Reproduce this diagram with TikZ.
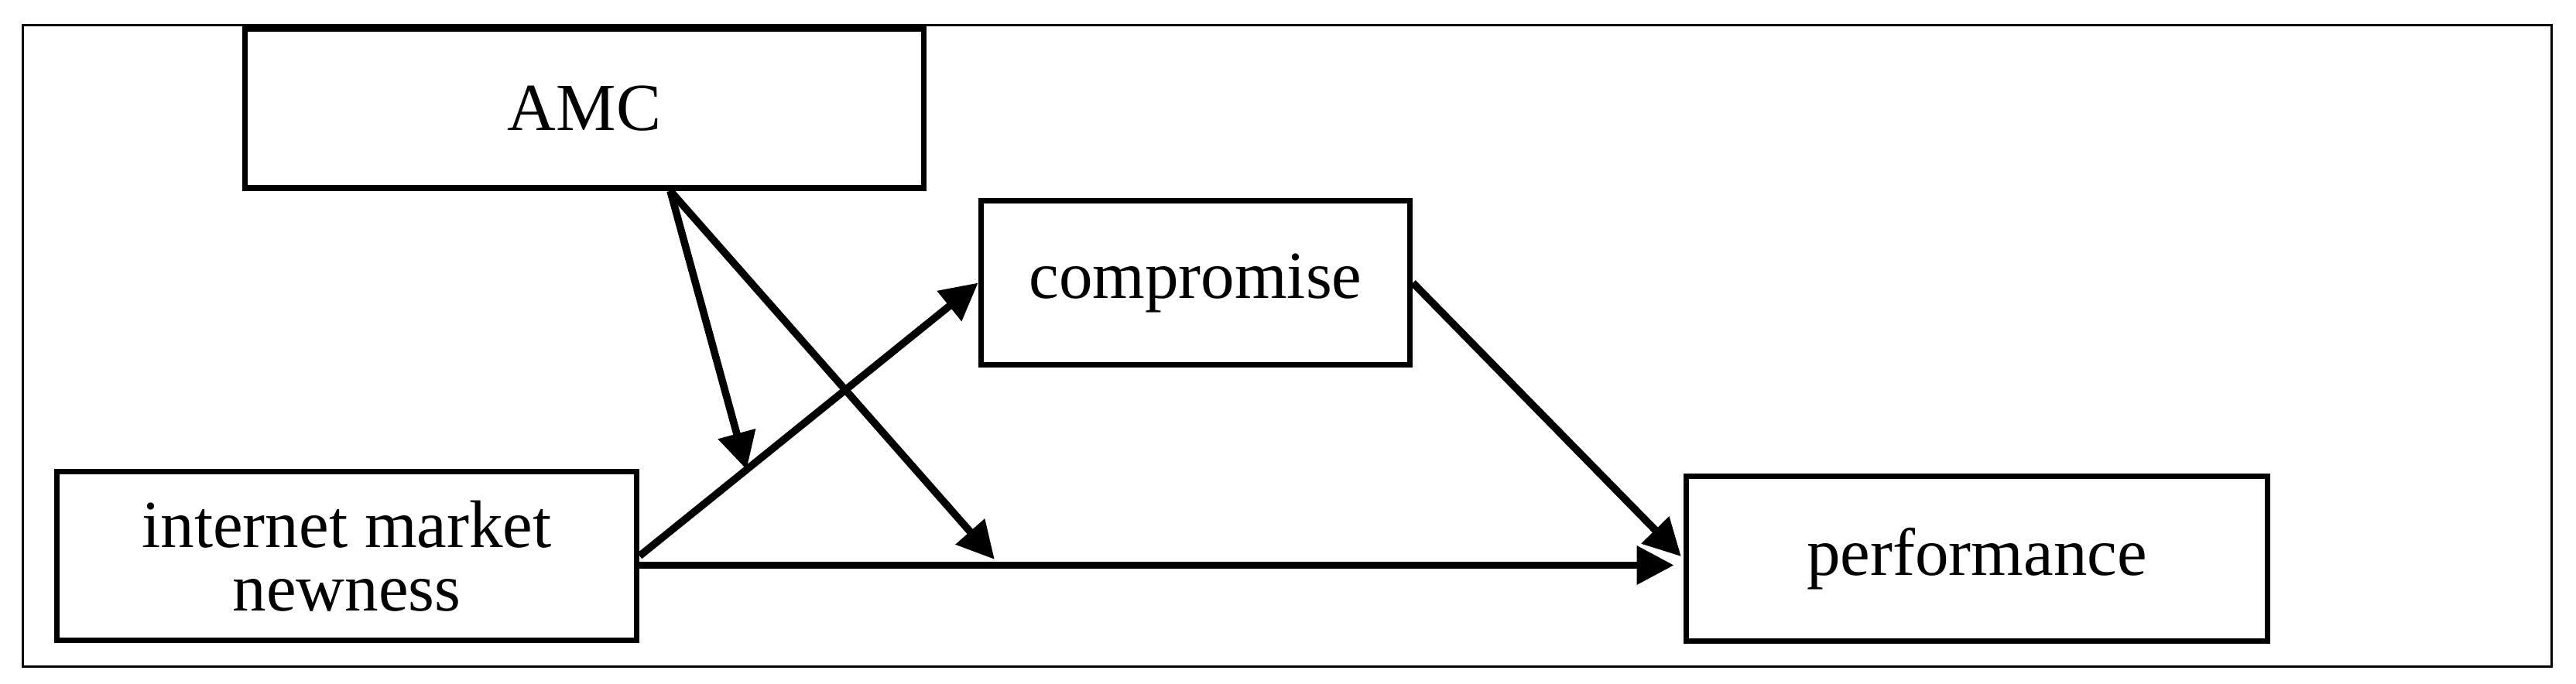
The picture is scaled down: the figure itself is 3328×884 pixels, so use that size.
\documentclass[tikz,border=0pt]{standalone}
\usepackage{fontspec}
\setmainfont{Liberation Serif}
\usetikzlibrary{arrows.meta}
\begin{document}
\begin{tikzpicture}[x=0.25pt,y=-0.25pt,
  box/.style={draw=black,line width=1.9pt,fill=white,align=center,inner sep=0pt,
    font=\fontsize{21.75pt}{20.5pt}\selectfont},
  arr/.style={line width=2.4pt,-{Triangle[length=12pt,width=12pt]}}]
\useasboundingbox (0,0) rectangle (3328,884);
\draw[line width=0.8pt] (29.5,32.5) rectangle (3296.5,861.5);
\node[box,minimum width=219.25pt,minimum height=51.5pt] (amc) at (755,140) {AMC};
\node[box,minimum width=187.25pt,minimum height=54.5pt] (inm) at (448,718.5) {internet market\\newness};
\node[box,minimum width=138.5pt,minimum height=53pt] (comp) at (1544.5,365.5) {compromise};
\node[box,minimum width=187.75pt,minimum height=53.25pt] (perf) at (2554,722) {performance};
\path (inm.east) -- (comp.west) coordinate[pos=0.316] (m1);
\path ([yshift=-3pt]inm.east) -- ([yshift=-3pt]inm.east -| perf.west) coordinate[pos=0.345] (m2);
\coordinate (amcout) at ([xshift=27.75pt]amc.south);
\draw[arr] (inm.east) -- (comp.west);
\draw[arr,shorten >=3pt] ([yshift=-3pt]inm.east) -- ([yshift=-3pt]inm.east -| perf.west);
\draw[arr,shorten >=1pt] (comp.east) -- (perf.west);
\draw[arr] (amcout) -- (m1);
\draw[arr,shorten >=2.5pt] (amcout) -- (m2);
\end{tikzpicture}
\end{document}
